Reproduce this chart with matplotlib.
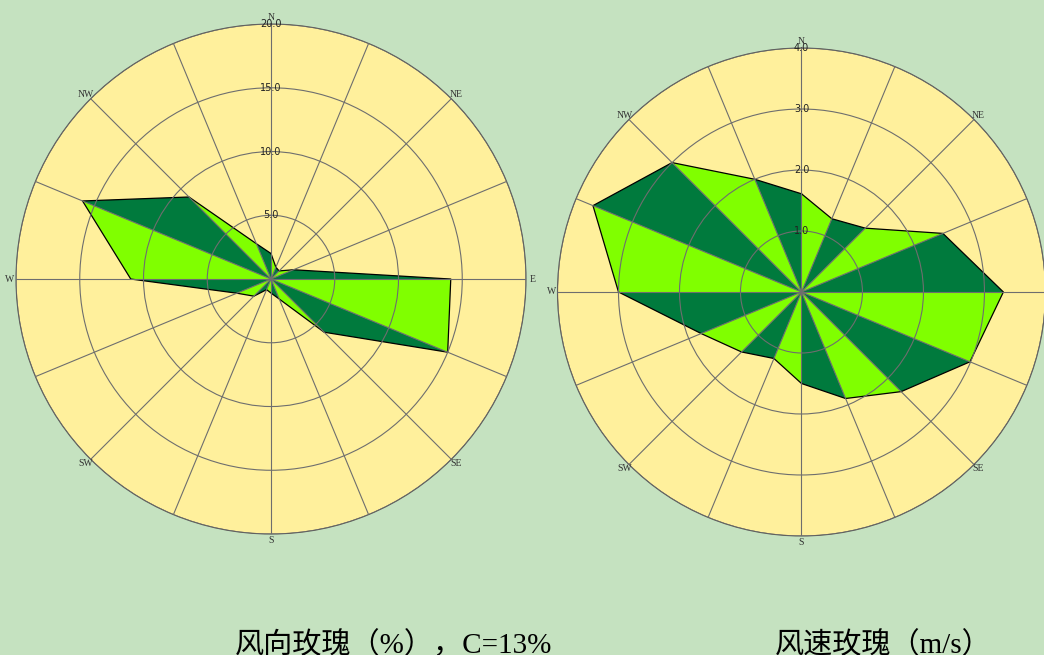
import numpy as np
import matplotlib.pyplot as plt

# 16 directions, clockwise from N
dirs = ['N', 'NNE', 'NE', 'ENE', 'E', 'ESE', 'SE', 'SSE',
        'S', 'SSW', 'SW', 'WSW', 'W', 'WNW', 'NW', 'NNW']
freq = [2.0, 1.0, 0.9, 1.9, 14.1, 15.0, 5.9, 1.7,
        1.1, 0.9, 1.9, 2.9, 11.0, 16.0, 9.1, 3.0]
speed = [1.61, 1.30, 1.48, 2.51, 3.31, 2.99, 2.31, 1.89,
         1.50, 1.18, 1.39, 1.78, 3.00, 3.70, 3.00, 2.00]
freq_ticks = [5, 10, 15, 20]
speed_ticks = [1, 2, 3, 4]
label_dirs = ['N', 'NE', 'E', 'SE', 'S', 'SW', 'W', 'NW']
titles = ['风向玫瑰（%），C=13%', '风速玫瑰（m/s）']

BG = '#C5E2C0'
YELLOW = '#FFF09C'
DARK = '#007A3D'
LIME = '#80FF00'
GRID = '#6E6E6E'

fig = plt.figure(figsize=(10.44, 6.55), dpi=100, facecolor=BG)


def rose(rect, vals, ticks):
    ax = fig.add_axes(rect, projection='polar')
    ax.set_facecolor(YELLOW)
    ax.set_theta_zero_location('N')
    ax.set_theta_direction(-1)
    n = len(vals)
    th = np.deg2rad(np.arange(n) * 360.0 / n)
    # alternating light / dark triangles between neighbouring directions
    for i in range(n):
        j = (i + 1) % n
        ax.fill([0, th[i], th[j]], [0, vals[i], vals[j]],
                color=LIME if i % 2 == 0 else DARK, lw=0, zorder=1)
    ax.plot(np.append(th, th[0]), np.append(vals, vals[0]),
            color='black', lw=0.9, zorder=2)
    ax.set_xticks(th)
    ax.set_xticklabels([])
    ax.set_rticks(ticks)
    ax.set_yticklabels([])
    ax.set_ylim(0, ticks[-1])
    ax.set_axisbelow(False)
    ax.grid(True, color=GRID, lw=0.8)
    ax.spines['polar'].set_color('#555555')
    ax.spines['polar'].set_linewidth(0.8)
    ax.tick_params(length=0)
    for t in ticks:
        ax.text(0, t, f'{t:.1f}', ha='center', va='center', fontsize=7,
                color='#222222', zorder=5)
    for k, name in enumerate(label_dirs):
        ax.text(np.deg2rad(45 * k), ticks[-1] * 1.025, name, ha='center',
                va='center', family='Liberation Serif', fontsize=7,
                color='#333333', zorder=5)
    return ax


rose([0.01533, 0.1847, 0.4885, 0.7786], freq, freq_ticks)
rose([0.534, 0.1817, 0.4674, 0.745], speed, speed_ticks)

fam = ['Liberation Serif', 'Noto Sans CJK SC']
fig.text(235 / 1044, 0.015, titles[0], fontsize=21, family=fam,
         ha='left', va='center')
fig.text(775 / 1044, 0.015, titles[1], fontsize=21, family=fam,
         ha='left', va='center')

fig.savefig('out.png', dpi=100, facecolor=BG)
